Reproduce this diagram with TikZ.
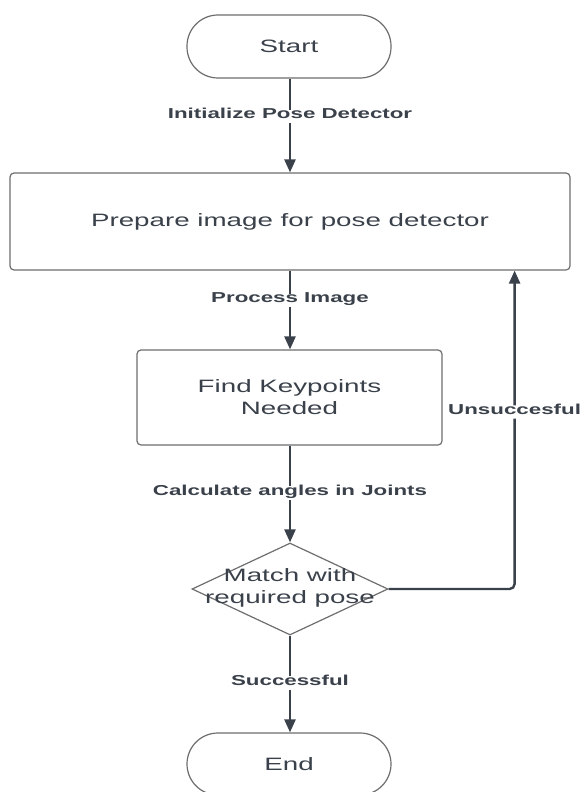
\documentclass[tikz,border=0pt]{standalone}
\usepackage{fontspec}
\setmainfont{Liberation Sans}[FakeStretch=1.55]
\usetikzlibrary{arrows.meta,shapes.geometric,calc}
\definecolor{ink}{HTML}{3A414A}
\definecolor{edge}{HTML}{6E6E6E}
\begin{document}
\begin{tikzpicture}[x=1pt,y=-1pt,
  shapeline/.style={draw=edge, line width=1.2pt, fill=white, inner sep=0pt,
    text=ink, font=\fontsize{17.9}{22}\selectfont, align=center},
  terminal/.style={shapeline, rounded corners=31pt, minimum width=204pt, minimum height=63pt},
  process/.style={shapeline, rounded corners=4pt},
  decision/.style={shapeline, diamond, minimum width=196pt, minimum height=92pt},
  bodytext/.style={text=ink, font=\fontsize{17.9}{22}\selectfont, align=center, inner sep=0pt},
  flow/.style={draw=ink, line width=2.4pt, -{Triangle[length=13pt,width=11pt]}},
  flowlabel/.style={fill=white, text=ink, font=\fontsize{14.4}{17}\selectfont\bfseries,
    inner xsep=1pt, inner ysep=2pt, text height=0.72em, text depth=0.2em}
]
\useasboundingbox (0,0) rectangle (580,792);
\fill[white] (0,0) rectangle (580,792);

% flowchart shapes
\node[terminal] (start) at (289,46.5) {Start};
\node[process, minimum width=560pt, minimum height=97pt] (prep) at (290,221.5)
  {Prepare image for pose detector};
\node[process, minimum width=305pt, minimum height=95pt] (find) at (289.5,397.5)
  {Find Keypoints\\Needed};
\node[decision] (match) at (290,589) {};
\node[bodytext] (matchtext) at (290,588) {Match with\\required pose};
\node[terminal, minimum height=62pt] (end) at (289,764) {End};

% return path anchor on the bottom edge of the preparation box
\coordinate (back) at ($(prep.south east)+(-56,0)$);

% connectors
\draw[flow] (start.south -| prep.north) -- node[flowlabel, pos=0.4] (l1) {Initialize Pose Detector} (prep.north);
\draw[flow] (prep.south) -- node[flowlabel, pos=0.375] (l2) {Process Image} (prep.south |- find.north);
\draw[flow] (prep.south |- find.south) -- node[flowlabel, pos=0.49] (l3) {Calculate angles in Joints} (match.north);
\draw[flow] (match.south) -- node[flowlabel, pos=0.49] (l4) {Successful} (match.south |- end.north);
\draw[flow, rounded corners=5pt] (match.east) -| node[flowlabel, pos=0.778] (l5) {Unsuccesful} (back);
\end{tikzpicture}
\end{document}
